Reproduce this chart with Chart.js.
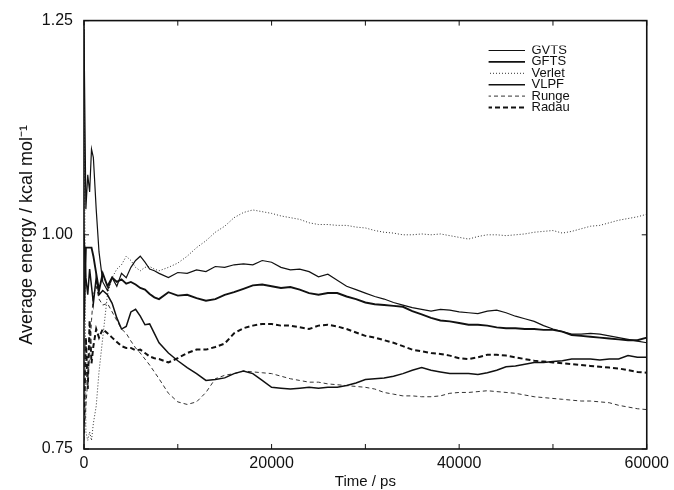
<!DOCTYPE html>
<html>
<head>
<meta charset="utf-8">
<script src="https://cdn.jsdelivr.net/npm/chart.js@4.4.0/dist/chart.umd.min.js"></script>
<style>
  body { margin: 0; background: #fff; }
  #chart { display: block; }
</style>
</head>
<body>
<canvas id="chart" width="674" height="490"></canvas>
<script>
// time axis (ps) shared by all series
const time = [0, 200, 400, 600, 800, 1000, 1300, 1600, 2000, 2500, 3000, 3500, 4000, 4500, 5000, 5500, 6000, 6500, 7000, 7500,
    8000, 9000, 10000, 11000, 12000, 13000, 14000, 15000, 16000, 17000, 18000, 19000, 20000,
    21000, 22000, 23000, 24000, 25000, 26000, 27000, 28000, 29000, 30000,
    31000, 32000, 33000, 34000, 35000, 36000, 37000, 38000, 39000, 40000,
    41000, 42000, 43000, 44000, 45000, 46000, 47000, 48000, 49000, 50000,
    51000, 52000, 53000, 54000, 55000, 56000, 57000, 58000, 59000, 60000];

// average energy (kcal/mol)
const gvts = [1.24, 1.03, 1.07, 1.05, 1.10, 1.09, 1.03, 0.98, 0.945, 0.935, 0.95, 0.94, 0.955, 0.95, 0.962, 0.97, 0.975, 0.968, 0.96, 0.958,
    0.955, 0.950, 0.956, 0.955, 0.959, 0.957, 0.963, 0.962, 0.965, 0.966, 0.965, 0.970, 0.968,
    0.962, 0.959, 0.960, 0.957, 0.951, 0.954, 0.947, 0.940, 0.936, 0.932,
    0.928, 0.925, 0.921, 0.918, 0.915, 0.913, 0.911, 0.913, 0.912, 0.910,
    0.909, 0.908, 0.911, 0.912, 0.909, 0.905, 0.902, 0.899, 0.894, 0.890,
    0.887, 0.884, 0.884, 0.885, 0.884, 0.882, 0.880, 0.878, 0.876, 0.874];
const gfts = [0.90, 0.985, 0.985, 0.985, 0.985, 0.975, 0.955, 0.935, 0.955, 0.940, 0.950, 0.945, 0.948, 0.943, 0.945, 0.942, 0.938, 0.936, 0.931, 0.927,
    0.925, 0.933, 0.929, 0.930, 0.926, 0.923, 0.925, 0.930, 0.933, 0.937, 0.941, 0.942, 0.940,
    0.938, 0.939, 0.936, 0.932, 0.930, 0.932, 0.932, 0.928, 0.925, 0.921,
    0.919, 0.918, 0.917, 0.916, 0.911, 0.907, 0.903, 0.900, 0.899, 0.897,
    0.895, 0.895, 0.894, 0.892, 0.891, 0.891, 0.890, 0.890, 0.889, 0.889,
    0.887, 0.883, 0.882, 0.881, 0.880, 0.879, 0.878, 0.877, 0.877, 0.880];
const verlet = [1.25, 0.77, 0.76, 0.77, 0.76, 0.78, 0.80, 0.84, 0.88, 0.93, 0.95, 0.96, 0.965, 0.975, 0.97, 0.962, 0.958, 0.962, 0.963, 0.960,
    0.958, 0.962, 0.967, 0.975, 0.985, 0.993, 1.003, 1.010, 1.020, 1.026, 1.029, 1.027, 1.025,
    1.022, 1.020, 1.018, 1.014, 1.012, 1.012, 1.011, 1.011, 1.009, 1.008,
    1.005, 1.003, 1.002, 1.000, 1.000, 1.001, 1.000, 1.001, 0.999, 0.997,
    0.995, 0.998, 1.000, 1.000, 0.999, 1.000, 1.001, 1.003, 1.004, 1.005,
    1.002, 1.004, 1.007, 1.010, 1.011, 1.014, 1.017, 1.019, 1.021, 1.024];
const vlpf = [1.00, 0.95, 0.93, 0.96, 0.94, 0.92, 0.95, 0.93, 0.935, 0.93, 0.92, 0.903, 0.89, 0.893, 0.91, 0.913, 0.905, 0.895, 0.896, 0.885,
    0.874, 0.862, 0.853, 0.845, 0.838, 0.830, 0.831, 0.833, 0.838, 0.841, 0.838, 0.830, 0.822,
    0.821, 0.820, 0.821, 0.822, 0.821, 0.822, 0.822, 0.824, 0.827, 0.831,
    0.832, 0.833, 0.835, 0.838, 0.842, 0.845, 0.842, 0.840, 0.838, 0.838,
    0.838, 0.837, 0.839, 0.842, 0.846, 0.847, 0.849, 0.851, 0.851, 0.852,
    0.853, 0.855, 0.855, 0.855, 0.854, 0.855, 0.855, 0.859, 0.857, 0.857];
const runge = [0.76, 0.80, 0.83, 0.86, 0.90, 0.93, 0.94, 0.925, 0.918, 0.92, 0.91, 0.90, 0.89, 0.885, 0.876, 0.868, 0.862, 0.855, 0.848, 0.84,
    0.832, 0.815, 0.805, 0.802, 0.805, 0.816, 0.832, 0.836, 0.838, 0.841, 0.840, 0.839, 0.838,
    0.835, 0.832, 0.830, 0.828, 0.828, 0.826, 0.825, 0.824, 0.823, 0.822,
    0.820, 0.816, 0.814, 0.812, 0.812, 0.811, 0.811, 0.812, 0.815, 0.816,
    0.816, 0.817, 0.818, 0.817, 0.816, 0.815, 0.813, 0.811, 0.810, 0.809,
    0.808, 0.807, 0.806, 0.806, 0.805, 0.804, 0.801, 0.799, 0.797, 0.796];
const radau = [0.78, 0.88, 0.82, 0.90, 0.85, 0.87, 0.89, 0.88, 0.89, 0.885, 0.88, 0.875, 0.87, 0.868, 0.868, 0.865, 0.866, 0.862, 0.858, 0.856,
    0.855, 0.851, 0.856, 0.862, 0.866, 0.866, 0.869, 0.873, 0.885, 0.891, 0.894, 0.896, 0.896,
    0.894, 0.894, 0.892, 0.890, 0.894, 0.895, 0.893, 0.890, 0.886, 0.882,
    0.880, 0.877, 0.874, 0.870, 0.866, 0.864, 0.862, 0.861, 0.859, 0.856,
    0.855, 0.857, 0.860, 0.860, 0.859, 0.857, 0.855, 0.853, 0.852, 0.851,
    0.850, 0.849, 0.848, 0.847, 0.846, 0.845, 0.844, 0.842, 0.840, 0.839];

const xTicks = [0, 20000, 40000, 60000];
const xMinorTicks = [10000, 30000, 50000];
const yTicks = [0.75, 1.00, 1.25];

const FONT = "'Liberation Sans', Arial, Helvetica, sans-serif";
const NARROW = "'Liberation Sans Narrow', 'Arial Narrow', 'Liberation Sans', sans-serif";

function series(label, values, width, dash, color) {
    return {
        label: label,
        data: time.map((t, i) => ({ x: t, y: values[i] })),
        borderColor: color || '#111',
        borderWidth: width,
        borderDash: dash || [],
        pointRadius: 0,
        tension: 0,
        fill: false
    };
}

// box around the plot with short inward ticks
const frame = {
    id: 'frame',
    afterDraw(chart) {
        const { ctx, chartArea: a, scales } = chart;
        ctx.save();
        ctx.strokeStyle = '#111';
        ctx.lineWidth = 1.6;
        ctx.setLineDash([]);
        ctx.strokeRect(a.left, a.top, a.right - a.left, a.bottom - a.top);
        ctx.lineWidth = 1;
        ctx.beginPath();
        xTicks.concat(xMinorTicks).forEach(v => {
            const px = scales.x.getPixelForValue(v);
            ctx.moveTo(px, a.bottom); ctx.lineTo(px, a.bottom - 5);
            ctx.moveTo(px, a.top); ctx.lineTo(px, a.top + 5);
        });
        yTicks.forEach(v => {
            const py = scales.y.getPixelForValue(v);
            ctx.moveTo(a.left, py); ctx.lineTo(a.left + 5, py);
            ctx.moveTo(a.right, py); ctx.lineTo(a.right - 5, py);
        });
        ctx.stroke();
        ctx.restore();
    }
};

// put the legend in the upper right corner of the plot
const legendSpot = {
    id: 'legendSpot',
    afterLayout(chart) {
        const lg = chart.legend;
        const pad = lg.options.labels.padding;
        lg.left = 487 - pad;
        lg.top = 44 - pad;
        lg.right = 660;
        lg.bottom = 440;
    }
};

new Chart(document.getElementById('chart'), {
    type: 'line',
    data: {
        datasets: [
            series('GVTS', gvts, 1.2),
            series('GFTS', gfts, 1.9),
            series('Verlet', verlet, 1, [1, 2], '#333'),
            series('VLPF', vlpf, 1.5),
            series('Runge', runge, 1, [4, 3], '#333'),
            series('Radau', radau, 2, [5, 3])
        ]
    },
    options: {
        responsive: false,
        animation: false,
        layout: { padding: { left: 0, top: 17, right: 23, bottom: 0 } },
        plugins: {
            legend: {
                position: 'chartArea',
                align: 'start',
                labels: {
                    usePointStyle: true,
                    pointStyle: 'line',
                    pointStyleWidth: 38,
                    padding: -1.6,
                    textAlign: 'left',
                    color: '#111',
                    font: { family: NARROW, size: 13 },
                    generateLabels: chart => {
                        const items = Chart.defaults.plugins.legend.labels.generateLabels(chart);
                        items.forEach(it => {
                            const ds = chart.data.datasets[it.datasetIndex];
                            it.lineDash = ds.borderDash;
                            it.lineWidth = ds.borderWidth;
                            it.strokeStyle = ds.borderColor;
                        });
                        return items;
                    }
                }
            },
            tooltip: { enabled: false }
        },
        scales: {
            x: {
                type: 'linear',
                min: 0,
                max: 60000,
                afterBuildTicks: s => { s.ticks = xTicks.map(v => ({ value: v })); },
                afterFit: s => { s.height = 41; },
                grid: { display: false, drawTicks: false },
                border: { display: false },
                ticks: {
                    padding: 5,
                    color: '#111',
                    font: { family: FONT, size: 16 },
                    callback: v => String(v)
                },
                title: {
                    display: true,
                    text: 'Time / ps',
                    color: '#111',
                    font: { family: FONT, size: 15 },
                    padding: { top: 0, bottom: -1 }
                }
            },
            y: {
                min: 0.75,
                max: 1.25,
                afterBuildTicks: s => { s.ticks = yTicks.map(v => ({ value: v })); },
                afterFit: s => { s.width = 84; },
                grid: { display: false, drawTicks: false },
                border: { display: false },
                ticks: {
                    padding: 11,
                    color: '#111',
                    font: { family: FONT, size: 16 },
                    callback: v => v.toFixed(2)
                },
                title: {
                    display: true,
                    text: 'Average energy / kcal mol\u207B\u00B9',
                    color: '#111',
                    font: { family: FONT, size: 18 },
                    padding: { top: 16, bottom: 0 }
                }
            }
        }
    },
    plugins: [frame, legendSpot]
});
</script>
</body>
</html>
